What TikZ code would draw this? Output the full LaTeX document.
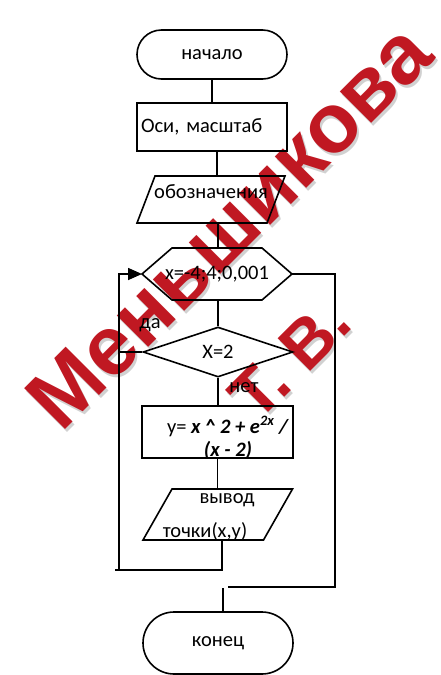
\documentclass[tikz,border=0pt]{standalone}
\usepackage{fontspec}
\setmainfont{Carlito}
\newfontfamily\wmfont{Liberation Sans}
\usetikzlibrary{shapes.misc,shapes.geometric,arrows.meta}
\definecolor{wmred}{RGB}{192,24,34}
\begin{document}
\begin{tikzpicture}[x=1pt,y=-1pt,
  ln/.style={line width=1.6pt, line join=miter},
  txt/.style={font=\fontsize{20.5}{23}\selectfont, inner sep=0pt},
  holder/.style={inner sep=0pt, outer sep=0pt, draw=none},
  term/.style={rounded rectangle, draw, ln, txt, minimum width=150pt},
  boxr/.style={rectangle, draw, ln, txt, inner sep=4pt},
  wm/.style={font=\wmfont\bfseries\fontsize{84}{86}\selectfont, text=wmred, inner sep=0pt},
  wmsh/.style={font=\wmfont\bfseries\fontsize{84}{86}\selectfont, text=black!45, opacity=0.4, inner sep=0pt}
]
\useasboundingbox (0,0) rectangle (440,675);

% watermark (behind)
\node[wmsh, rotate=45] (w1s) at (231,229) {Меньшикова};
\node[wm, rotate=45] (w1) at (229,226) {Меньшикова};
\node[wmsh, font=\wmfont\bfseries\fontsize{67}{70}\selectfont, rotate=45] (w2s) at (292,362) {Т. В.};
\node[wm, font=\wmfont\bfseries\fontsize{67}{70}\selectfont, rotate=45] (w2) at (290,359) {Т. В.};

% start
\node[term, minimum height=49pt] (st) at (212,54.5) {начало};
% axes
\node[boxr, minimum height=48pt, text width=142pt, align=left] (ax) at (212,127) {Оси, масштаб};
% parallelogram 1
\node[holder, minimum width=130pt, minimum height=47pt] (p1) at (211,199.5) {};
\draw[ln] ([xshift=9pt]p1.north west) -- ([xshift=9pt]p1.north east)
  -- ([xshift=-9pt]p1.south east) -- ([xshift=-9pt]p1.south west) -- cycle;
\node[txt] (p1t) at (211,192) {обозначения};
% hexagon
\node[holder, txt, minimum width=150pt, minimum height=52pt] (hx) at (217,274) {x=-4;4;0,001};
\draw[ln] (hx.west) -- ([xshift=30pt]hx.north west) -- ([xshift=-30pt]hx.north east)
  -- (hx.east) -- ([xshift=-30pt]hx.south east) -- ([xshift=30pt]hx.south west) -- cycle;
% decision
\node[diamond, draw, ln, txt, minimum width=150pt, minimum height=50pt] (dm) at (218,352) {X=2};
\node[txt] (da) at (150,325) {да};
\node[txt] (net) at (244,388) {нет};
% formula
\node[rectangle, draw, ln, minimum width=151pt, minimum height=52pt, inner sep=0pt] (fr) at (217.5,432) {};
\node[txt, align=center] (frt) at (228,438)
  {y= \textbf{\textit{x \textasciicircum{} 2 + e\textsuperscript{2x} /}}\\ \textbf{\textit{(x - 2)}}};
% parallelogram 2
\node[holder, minimum width=120.5pt, minimum height=51pt] (p2) at (217.75,514.5) {};
\draw[ln] ([xshift=14.5pt]p2.north west) -- ([xshift=14.5pt]p2.north east)
  -- ([xshift=-14.5pt]p2.south east) -- ([xshift=-14.5pt]p2.south west) -- cycle;
\node[txt] (p2a) at (227,500) {вывод};
\node[txt] (p2b) at (205,532) {точки(x,y)};
% end
\node[term, minimum height=62pt] (en) at (218,643) {конец};

% coordinates
\coordinate (lb) at (115,570);
\coordinate (lv) at (119,570);
\coordinate (rc) at (335,587);
\coordinate (rb) at (228,587);
\coordinate (eb) at (223,588);

% connectors
\draw[ln] (st.south) -- (ax.north);
\draw[ln] ([xshift=5pt]ax.south) -- ([xshift=5pt]ax.south |- p1.north);
\draw[ln] ([xshift=7pt]p1.south) -- ([xshift=7pt]p1.south |- hx.north);
\draw[ln] ([xshift=1pt]hx.south) -- ([xshift=1pt]hx.south |- dm.north);
\draw[ln] (dm.south) -- (dm.south |- fr.north);
\draw[ln] (fr.south) -- (fr.south |- p2.north);
\draw[ln] ([xshift=4pt]p2.south) -- ([xshift=4pt]p2.south |- lb) -- (lb);
\draw[ln, -{Triangle[length=14pt,width=12pt]}] (lv) -- (lv |- hx.west) -- (hx.west);
\draw[ln] (dm.west) -- (dm.west -| lv);
\draw[ln] (hx.east) -| (rc) -- (rb);
\draw[ln] (eb) -- (eb |- en.north);
\end{tikzpicture}
\end{document}
